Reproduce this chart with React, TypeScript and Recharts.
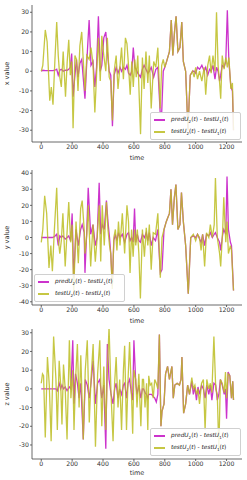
import { LineChart, Line, XAxis, YAxis, Legend } from "recharts";

const FONT = "DejaVu Sans, sans-serif";
const PRED_COLOR = "#bf00bf";
const TEST_COLOR = "#bcbd22";
const AXIS_COLOR = "#444";

const timeTicks = [0, 200, 400, 600, 800, 1000, 1200];
const timeDomain = [-60, 1300];

// x value panel
const xTime = [0, 10, 26, 38, 55, 65, 76, 88, 100, 110, 120, 130, 142, 157, 168, 178, 188, 197, 206, 218, 228, 238, 250, 262, 283, 295, 310, 322, 335, 347, 358, 370, 382, 392, 405, 418, 428, 440, 450, 461, 472, 485, 497, 510, 520, 532, 545, 555, 565, 576, 586, 596, 606, 615, 625, 643, 655, 666, 678, 690, 700, 712, 728, 742, 755, 770, 780, 790, 800, 812, 830, 842, 852, 863, 873, 885, 898, 910, 920, 935, 950, 965, 980, 990, 1000, 1012, 1025, 1040, 1055, 1065, 1078, 1090, 1100, 1112, 1125, 1135, 1145, 1155, 1162, 1172, 1184, 1195, 1205, 1215, 1228, 1238, 1245];
const xTest = [0, 3, 21, 15, -15, -8, -17, 5, 25, 8, -3, -8, 10, -13, 5, 16, -2, 5, -29, 8, 6, -10, 13, 20, -10, 8, 6, 12, 4, -21, -2, 17, -5, 18, 8, 0, 17, -3, -5, -25, 0, 8, -9, 3, 12, -4, 17, 14, 3, -12, 5, -8, 6, -3, 8, -32, 7, -9, 10, -6, 8, -19, 5, 2, 12, -19, 3, 6, 2, 5, 10, 26, 8, 20, 28, 10, 12, 25, 5, 0, -30, -2, 0, -3, 2, -4, 0, -5, 2, -12, 3, 8, -1, 8, 0, 30, 3, -6, -14, 8, 1, 7, 2, 7, -9, -6, -30];
const xPred = [0, 0.5, 0.3, 0.3, 0.3, 0.3, 0.3, 0.5, 1, -2, 0.5, 1, 0, 0.5, 0.5, 1, 2, 9, -13, -2, 6, -3, 4, 6, -14, 5, 26, 3, 5, -8, 2, 28, 0, 3, 17, 20, 10, 0, -2, -28, -2, 2, -1, 2, 0, 2, 1, 3, -1, -2, 0, 12, 2, 1, -1, -3, 1, 3, 1, -1, 0, 2, -3, 1, 2, -21, -21, 0, 2, 5, 10, 26, 8, 20, 28, 10, 12, 25, 5, 0, -30, -2, 0, 0, -1, 2, 1, 3, 0, 2, -2, 1, 0, 3, -4, 2, 0, -5, -2, 3, 2, 5, 31, 5, -8, -10, -30];

// y value panel
const yTime = [0, 10, 22, 35, 50, 62, 72, 85, 100, 110, 120, 130, 140, 155, 168, 178, 190, 200, 210, 225, 240, 255, 265, 278, 283, 295, 304, 320, 335, 350, 362, 375, 385, 395, 408, 422, 432, 442, 450, 460, 470, 480, 490, 500, 510, 525, 540, 555, 565, 575, 585, 595, 604, 612, 622, 632, 642, 655, 668, 680, 690, 700, 712, 725, 740, 755, 771, 782, 795, 810, 830, 840, 850, 862, 872, 885, 898, 908, 920, 935, 952, 968, 985, 1000, 1012, 1025, 1035, 1045, 1058, 1070, 1085, 1095, 1108, 1120, 1128, 1140, 1155, 1162, 1175, 1182, 1195, 1203, 1212, 1225, 1232, 1245];
const yTest = [-3, 5, 26, 15, -19, -5, -21, 5, 31, -1, -10, -2, 15, -18, 5, 22, -3, 8, -35, 10, -16, 18, 23, 5, -10, 2, 20, -18, 8, -15, 0, 20, -15, 20, -5, 22, 5, -5, -10, -32, 0, 5, -8, 10, -5, 15, -10, 20, 10, -22, 5, -12, 5, -5, 5, -10, -38, 5, -12, 6, -5, 8, -20, 3, 2, 15, -25, 0, 5, 10, 15, 30, 8, 25, 33, 5, 8, 28, 10, -5, -35, 0, 2, -2, 2, 0, -8, 2, -18, 3, 0, 8, 0, 8, 37, 0, -10, -18, 5, 25, -3, 10, -10, -5, -8, -33];
const yPred = [0, 0, 0, 0, 0, 0, 0, 0.5, 2, -5, 1, 0, 1, -1, 0, 1, -2, 15, -25, 5, -5, 5, 8, 3, -22, 5, 31, 2, 8, -5, 0, 34, 2, 8, 5, 23, 10, 0, -10, -30, -2, 2, -2, 3, 0, 2, -3, 2, 3, -2, 0, -3, 18, -3, 2, -2, -3, 2, 0, 3, -2, 3, -5, 0, -2, 5, -22, -20, 5, 10, 15, 30, 8, 25, 33, 5, 8, 28, 10, -5, -35, 0, 1, 0, 2, -1, -3, 2, -5, 2, 1, 3, 0, 2, 3, 0, -3, -8, 2, 5, 2, 38, 5, -3, -5, -33];

// z value panel
const zTime = [0, 8, 15, 26, 40, 52, 64, 80, 95, 104, 116, 126, 134, 144, 155, 167, 182, 192, 204, 212, 222, 234, 245, 256, 272, 285, 298, 311, 322, 336, 351, 365, 379, 392, 405, 418, 428, 439, 452, 465, 475, 485, 497, 508, 520, 532, 540, 552, 562, 572, 585, 592, 600, 612, 620, 632, 645, 655, 662, 672, 682, 690, 696, 705, 715, 725, 735, 745, 755, 765, 775, 782, 795, 805, 818, 830, 846, 855, 865, 880, 895, 905, 911, 922, 935, 948, 960, 975, 985, 995, 1005, 1015, 1025, 1038, 1050, 1061, 1072, 1085, 1095, 1105, 1118, 1130, 1140, 1150, 1160, 1172, 1185, 1193, 1200, 1210, 1221, 1232, 1240, 1245];
const zTest = [3, 8, 7, -26, 17, 2, -28, 28, 5, -22, 15, 2, -19, 13, 0, -27, 26, -5, 10, -22, 5, 24, -10, 18, -27, 10, 26, -18, 5, 24, -31, 8, 26, -20, 12, -22, 10, 33, -3, -28, 3, 17, -10, 5, -22, 10, 23, -22, 5, 25, -5, -24, 10, 5, -10, 8, -20, 5, 5, -10, 3, -22, 7, 2, 3, -5, 5, 3, 0, 29, -20, -12, -8, 8, 12, 5, 12, -5, 2, 3, 2, 5, 17, -13, -8, 2, -3, 6, 0, 2, -3, 0, -8, 3, 5, -22, 5, 0, 3, -2, 28, 0, -3, -33, 5, 3, -2, 9, -5, 8, 7, -5, 4, -6];
const zPred = [0, 0, 0, 0, 0, 0, 0, 0, 0, -1, 3, 0, 2, 0, 1, -1, 1, 0, 26, -8, 8, 3, -5, 3, -27, 5, 2, -5, 3, 15, -8, 3, 5, -5, 2, -32, 24, 5, -3, -8, 0, 3, -5, 0, -3, 2, 3, -5, 3, 5, -3, -6, 26, 3, -3, 2, -5, 0, 0, -2, -3, -5, -3, -3, -3, -4, -5, -7, -3, 29, -20, -12, -8, 8, 12, 5, 12, -5, 2, 3, 2, 5, 17, -13, -8, 2, -3, 4, -3, 1, -6, 1, -3, 2, 0, -5, 2, -3, 2, -6, 3, 2, -6, -3, 5, 2, -3, 0, -16, 9, 7, -5, 4, -6];

const PRED_OPACITY = 0.8;
const TEST_OPACITY = 0.85;

function rows(time: number[], pred: number[], test: number[]) {
  return time.map((t, i) => ({ t, pred: pred[i], test: test[i] }));
}

function LegendBox() {
  const sub = { fontSize: "70%", verticalAlign: "-1.5px", lineHeight: 1 };
  return (
    <div
      style={{
        border: "0.8px solid #d0d0d0",
        borderRadius: 2,
        background: "rgba(255,255,255,0.85)",
        padding: "1px 3px",
        fontFamily: FONT,
        fontSize: 5.8,
        color: "#222",
        lineHeight: 1,
      }}
    >
      {[
        { color: PRED_COLOR, opacity: PRED_OPACITY, a: "pred" },
        { color: TEST_COLOR, opacity: TEST_OPACITY, a: "test" },
      ].map((r) => (
        <div key={r.a} style={{ display: "flex", alignItems: "center", height: 12 }}>
          <span
            style={{
              display: "inline-block",
              width: 11,
              height: 1.4,
              background: r.color,
              opacity: r.opacity,
              marginRight: 6,
            }}
          />
          <span style={{ whiteSpace: "nowrap" }}>
            <i>{r.a}U</i>
            <span style={sub}>2</span>(<i>t</i>) - <i>testU</i>
            <span style={sub}>1</span>(<i>t</i>)
          </span>
        </div>
      ))}
    </div>
  );
}

interface PanelProps {
  data: { t: number; pred: number; test: number }[];
  top: number;
  height: number;
  marginTop: number;
  xAxisHeight: number;
  labelOffset: number;
  yDomain: number[];
  yTicks: number[];
  yLabel: string;
  legendLeft: number;
  legendTop: number;
}

function Panel(p: PanelProps) {
  const tick = { fontSize: 6.2, fill: "#333", fontFamily: FONT };
  return (
    <div style={{ position: "absolute", left: 0, top: p.top }}>
      <LineChart
        width={247}
        height={p.height}
        data={p.data}
        margin={{ top: p.marginTop, right: 5, bottom: 0, left: 0 }}
      >
        <XAxis
          dataKey="t"
          type="number"
          domain={timeDomain}
          ticks={timeTicks}
          allowDataOverflow
          height={p.xAxisHeight}
          tick={tick}
          tickSize={2}
          tickMargin={1}
          stroke={AXIS_COLOR}
          strokeWidth={0.8}
          label={{
            value: "time",
            position: "insideBottom",
            offset: p.labelOffset,
            fontSize: 6.5,
            fill: "#333",
            fontFamily: FONT,
          }}
        />
        <XAxis
          xAxisId="top"
          orientation="top"
          dataKey="t"
          type="number"
          domain={timeDomain}
          allowDataOverflow
          height={0}
          tick={false}
          tickLine={false}
          stroke={AXIS_COLOR}
          strokeWidth={0.8}
        />
        <YAxis
          type="number"
          domain={p.yDomain}
          ticks={p.yTicks}
          allowDataOverflow
          width={32}
          tick={tick}
          tickSize={2}
          tickMargin={1}
          stroke={AXIS_COLOR}
          strokeWidth={0.8}
          label={(props: any) => {
            const vb = props.viewBox || {};
            const cx = 7;
            const cy = (vb.y ?? 0) + (vb.height ?? 0) / 2;
            return (
              <text
                x={cx}
                y={cy}
                transform={`rotate(-90 ${cx} ${cy})`}
                textAnchor="middle"
                dominantBaseline="central"
                fontSize={6.5}
                fill="#333"
                fontFamily={FONT}
              >
                {p.yLabel}
              </text>
            );
          }}
        />
        <YAxis
          yAxisId="right"
          orientation="right"
          type="number"
          domain={p.yDomain}
          allowDataOverflow
          width={0}
          tick={false}
          tickLine={false}
          stroke={AXIS_COLOR}
          strokeWidth={0.8}
        />
        <Line
          dataKey="pred"
          type="linear"
          stroke={PRED_COLOR}
          strokeOpacity={PRED_OPACITY}
          strokeWidth={1.3}
          dot={false}
          isAnimationActive={false}
        />
        <Line
          dataKey="test"
          type="linear"
          stroke={TEST_COLOR}
          strokeOpacity={TEST_OPACITY}
          strokeWidth={1.3}
          dot={false}
          isAnimationActive={false}
        />
        <Legend
          layout="vertical"
          align="center"
          verticalAlign="middle"
          content={() => <LegendBox />}
          wrapperStyle={{ left: p.legendLeft, top: p.legendTop, width: 91, height: "auto" }}
        />
      </LineChart>
    </div>
  );
}

export default function App() {
  return (
    <div
      style={{
        position: "absolute",
        left: 0,
        top: 0,
        width: 247,
        height: 480,
        background: "#fff",
        overflow: "hidden",
      }}
    >
      <Panel
        data={rows(xTime, xPred, xTest)}
        top={0}
        height={163}
        marginTop={5}
        xAxisHeight={21}
        labelOffset={3}
        yDomain={[-36, 33.7]}
        yTicks={[-30, -20, -10, 0, 10, 20, 30]}
        yLabel="x value"
        legendLeft={150}
        legendTop={112}
      />
      <Panel
        data={rows(yTime, yPred, yTest)}
        top={160}
        height={165}
        marginTop={10}
        xAxisHeight={20}
        labelOffset={2}
        yDomain={[-42, 42]}
        yTicks={[-40, -30, -20, -10, 0, 10, 20, 30, 40]}
        yLabel="y value"
        legendLeft={34}
        legendTop={114}
      />
      <Panel
        data={rows(zTime, zPred, zTest)}
        top={325}
        height={155}
        marginTop={4}
        xAxisHeight={21}
        labelOffset={5}
        yDomain={[-37.5, 32]}
        yTicks={[-30, -20, -10, 0, 10, 20, 30]}
        yLabel="z value"
        legendLeft={150}
        legendTop={103}
      />
    </div>
  );
}
